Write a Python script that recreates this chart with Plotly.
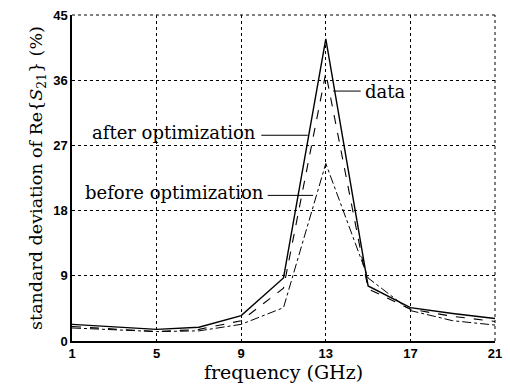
import plotly.graph_objects as go

freq = [1, 3, 5, 7, 9, 11, 13, 15, 17, 19, 21]
data_vals = [2.3, 2.0, 1.6, 1.9, 3.5, 8.7, 41.7, 7.6, 4.6, 3.8, 3.1]
after_vals = [2.0, 1.7, 1.3, 1.6, 2.8, 7.3, 37.0, 7.2, 4.4, 3.4, 2.7]
before_vals = [1.8, 1.6, 1.3, 1.4, 2.3, 4.6, 24.5, 8.7, 4.2, 2.8, 2.2]

xticks = [1, 5, 9, 13, 17, 21]
yticks = [0, 9, 18, 27, 36, 45]

fig = go.Figure()
fig.add_trace(go.Scatter(x=freq, y=data_vals, mode="lines",
                         line=dict(color="black", width=1.4), name="data"))
fig.add_trace(go.Scatter(x=freq, y=after_vals, mode="lines",
                         line=dict(color="black", width=1.1, dash="dash"), name="after optimization"))
fig.add_trace(go.Scatter(x=freq, y=before_vals, mode="lines",
                         line=dict(color="black", width=1.0, dash="dashdot"), name="before optimization"))

serif = "DejaVu Serif, serif"
ann_font = dict(family=serif, size=18, color="black")

# leader lines
leaders = [
    (13.35, 14.65, 34.5),
    (9.95, 12.15, 28.4),
    (10.25, 12.4, 20.1),
]
for x0, x1, y in leaders:
    fig.add_shape(type="line", x0=x0, x1=x1, y0=y, y1=y, xref="x", yref="y",
                  line=dict(color="black", width=1))

fig.add_annotation(x=14.75, y=34.5, text="data", showarrow=False, xanchor="left",
                   yanchor="middle", font=ann_font)
fig.add_annotation(x=9.8, y=28.8, text="after optimization", showarrow=False, xanchor="right",
                   yanchor="middle", font=ann_font)
fig.add_annotation(x=10.15, y=20.5, text="before optimization", showarrow=False, xanchor="right",
                   yanchor="middle", font=ann_font)

tick_font = dict(family="Liberation Sans, Arial, sans-serif", size=13, color="black", weight="bold")
fig.update_xaxes(range=[1, 21], tickvals=xticks, ticktext=[str(v) for v in xticks],
                 showgrid=True, gridcolor="black", griddash="dot", gridwidth=1,
                 showline=True, linecolor="black", linewidth=1.5, mirror=False,
                 zeroline=False, ticks="", tickfont=tick_font,
                 title=dict(text="frequency (GHz)", font=dict(family=serif, size=19, color="black"),
                            standoff=4))
fig.update_yaxes(range=[0, 45], tickvals=yticks, ticktext=[str(v) for v in yticks],
                 showgrid=True, gridcolor="black", griddash="dot", gridwidth=1,
                 showline=True, linecolor="black", linewidth=1.5, mirror=False,
                 zeroline=False, ticks="", tickfont=tick_font,
                 title=dict(text="standard deviation of Re{<i>S</i><sub>21</sub>} (%)",
                            font=dict(family=serif, size=17.5, color="black"), standoff=6))

# dotted frame on top and right
fig.add_shape(type="line", xref="paper", yref="paper", x0=0, x1=1, y0=1, y1=1,
              line=dict(color="black", width=1, dash="dot"))
fig.add_shape(type="line", xref="paper", yref="paper", x0=1, x1=1, y0=0, y1=1,
              line=dict(color="black", width=1, dash="dot"))

fig.update_layout(width=510, height=389, margin=dict(l=72, r=8, t=10, b=48),
                  plot_bgcolor="white", paper_bgcolor="white", showlegend=False)

fig.write_html("out.html")
